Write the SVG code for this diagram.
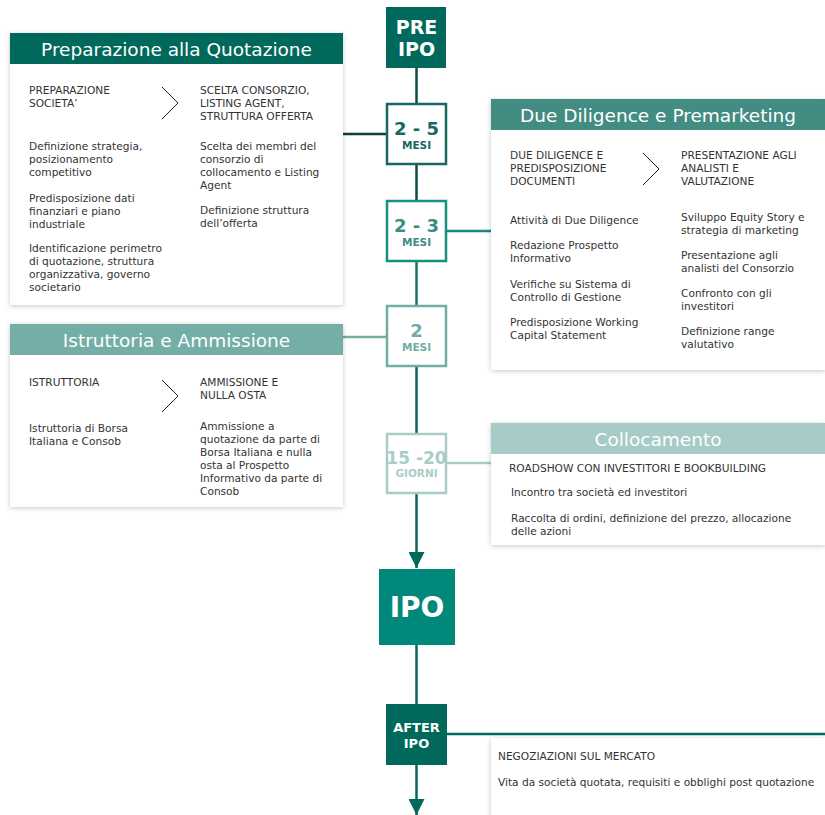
<svg xmlns="http://www.w3.org/2000/svg" width="825" height="815" viewBox="0 0 825 815">
<defs>
<filter id="sh" x="-5%" y="-5%" width="110%" height="115%">
<feDropShadow dx="0" dy="1" stdDeviation="2.5" flood-color="#000" flood-opacity="0.22"/>
</filter>
<marker id="ah" viewBox="0 0 16 16" refX="16" refY="8" markerWidth="16" markerHeight="16" markerUnits="userSpaceOnUse" orient="auto">
<path d="M0,0 L16,8 L0,16 Z" fill="#00695c"/>
</marker>
</defs>
<style>
text{font-family:"DejaVu Sans",Verdana,sans-serif}
.b{font-size:10.6px;fill:#333}
.t{font-size:18.5px;fill:#fff;text-anchor:middle}
.card{fill:#fff;filter:url(#sh)}
.chev{fill:none;stroke:#222;stroke-width:1}
.bn{font-weight:bold;text-anchor:middle}
.ln{fill:none;stroke-width:2.5}
</style>

<g id="connectors">
<line class="ln" x1="416.5" y1="68" x2="416.5" y2="103" stroke="#0b4d46"/>
<line class="ln" x1="416.5" y1="165" x2="416.5" y2="200" stroke="#0b4d46"/>
<line class="ln" x1="416.5" y1="262" x2="416.5" y2="305" stroke="#12766a"/>
<line class="ln" x1="416.5" y1="367" x2="416.5" y2="433" stroke="#00695c"/>
<line class="ln" x1="416.5" y1="494" x2="416.5" y2="568" stroke="#00695c" marker-end="url(#ah)"/>
<line class="ln" x1="416.5" y1="645" x2="416.5" y2="704" stroke="#00695c"/>
<line class="ln" x1="416.5" y1="765" x2="416.5" y2="815" stroke="#00695c" marker-end="url(#ah)"/>
<line class="ln" x1="343" y1="134" x2="386" y2="134" stroke="#0d3d3a"/>
<line class="ln" x1="447" y1="231" x2="491" y2="231" stroke="#16897a"/>
<line class="ln" x1="343" y1="337" x2="386" y2="337" stroke="#72ada4"/>
<line class="ln" x1="447" y1="463" x2="491" y2="463" stroke="#a8cdc8"/>
<line class="ln" x1="447" y1="734" x2="825" y2="734" stroke="#00695c"/>
</g>

<g id="pre-ipo">
<rect x="386" y="7" width="60" height="61" fill="#00695c"/>
<text class="bn" x="416.5" y="34" font-size="19" fill="#fff">PRE</text>
<text class="bn" x="416.5" y="56" font-size="19" fill="#fff">IPO</text>
</g>

<g id="m25">
<rect x="387" y="104" width="59" height="60" fill="#fff" stroke="#17695f" stroke-width="2.5"/>
<text class="bn" x="416.5" y="135" font-size="18" fill="#17695f">2 - 5</text>
<text class="bn" x="416.5" y="149" font-size="10.5" fill="#17695f">MESI</text>
</g>

<g id="m23">
<rect x="387" y="201" width="59" height="60" fill="#fff" stroke="#17907f" stroke-width="2.5"/>
<text class="bn" x="416.5" y="232" font-size="18" fill="#3d8c81">2 - 3</text>
<text class="bn" x="416.5" y="246" font-size="10.5" fill="#3d8c81">MESI</text>
</g>

<g id="m2">
<rect x="387" y="306" width="59" height="60" fill="#fff" stroke="#72ada4" stroke-width="2.5"/>
<text class="bn" x="416.5" y="337" font-size="18" fill="#72ada4">2</text>
<text class="bn" x="416.5" y="351" font-size="10.5" fill="#72ada4">MESI</text>
</g>

<g id="g1520">
<rect x="387" y="434" width="59" height="59" fill="#fff" stroke="#a8cdc8" stroke-width="2.5"/>
<text class="bn" x="416.5" y="464" font-size="17" fill="#a8cdc8">15 -20</text>
<text class="bn" x="416.5" y="477" font-size="10.5" fill="#a8cdc8">GIORNI</text>
</g>

<g id="ipo">
<rect x="379" y="569" width="76" height="76" fill="#00897b"/>
<text class="bn" x="417" y="617" font-size="28" fill="#fff">IPO</text>
</g>

<g id="after-ipo">
<rect x="386" y="704" width="61" height="61" fill="#00695c"/>
<text class="bn" x="416.5" y="732" font-size="13" fill="#fff">AFTER</text>
<text class="bn" x="416.5" y="748" font-size="13" fill="#fff">IPO</text>
</g>

<g id="preparazione">
<rect class="card" x="10" y="33" width="333" height="272"/>
<rect x="10" y="33" width="333" height="31" fill="#00695c"/>
<text class="t" x="176.5" y="56">Preparazione alla Quotazione</text>
<path class="chev" d="M162,87 L178,103 L162,119"/>
<text class="b" x="29" y="94">PREPARAZIONE</text>
<text class="b" x="29" y="107">SOCIETA’</text>
<text class="b" x="200" y="94">SCELTA CONSORZIO,</text>
<text class="b" x="200" y="107">LISTING AGENT,</text>
<text class="b" x="200" y="120">STRUTTURA OFFERTA</text>
<text class="b" x="29" y="150">Definizione strategia,</text>
<text class="b" x="29" y="163">posizionamento</text>
<text class="b" x="29" y="176">competitivo</text>
<text class="b" x="29" y="202">Predisposizione dati</text>
<text class="b" x="29" y="215">finanziari e piano</text>
<text class="b" x="29" y="228">industriale</text>
<text class="b" x="29" y="252">Identificazione perimetro</text>
<text class="b" x="29" y="265">di quotazione, struttura</text>
<text class="b" x="29" y="278">organizzativa, governo</text>
<text class="b" x="29" y="291">societario</text>
<text class="b" x="200" y="150">Scelta dei membri del</text>
<text class="b" x="200" y="163">consorzio di</text>
<text class="b" x="200" y="176">collocamento e Listing</text>
<text class="b" x="200" y="189">Agent</text>
<text class="b" x="200" y="214">Definizione struttura</text>
<text class="b" x="200" y="227">dell’offerta</text>
</g>

<g id="istruttoria">
<rect class="card" x="10" y="324" width="333" height="183"/>
<rect x="10" y="324" width="333" height="31" fill="#74aea6"/>
<text class="t" x="176.5" y="347">Istruttoria e Ammissione</text>
<path class="chev" d="M162,380 L178,396 L162,412"/>
<text class="b" x="29" y="386">ISTRUTTORIA</text>
<text class="b" x="200" y="386">AMMISSIONE E</text>
<text class="b" x="200" y="399">NULLA OSTA</text>
<text class="b" x="29" y="432">Istruttoria di Borsa</text>
<text class="b" x="29" y="445">Italiana e Consob</text>
<text class="b" x="200" y="430">Ammissione a</text>
<text class="b" x="200" y="443">quotazione da parte di</text>
<text class="b" x="200" y="456">Borsa Italiana e nulla</text>
<text class="b" x="200" y="469">osta al Prospetto</text>
<text class="b" x="200" y="482">Informativo da parte di</text>
<text class="b" x="200" y="495">Consob</text>
</g>

<g id="due-diligence">
<rect class="card" x="491" y="99" width="334" height="271"/>
<rect x="491" y="99" width="334" height="31" fill="#428c82"/>
<text class="t" x="658" y="122">Due Diligence e Premarketing</text>
<path class="chev" d="M643,153 L659,169 L643,185"/>
<text class="b" x="510" y="159">DUE DILIGENCE E</text>
<text class="b" x="510" y="172">PREDISPOSIZIONE</text>
<text class="b" x="510" y="185">DOCUMENTI</text>
<text class="b" x="681" y="159">PRESENTAZIONE AGLI</text>
<text class="b" x="681" y="172">ANALISTI E</text>
<text class="b" x="681" y="185">VALUTAZIONE</text>
<text class="b" x="510" y="224">Attività di Due Diligence</text>
<text class="b" x="510" y="249">Redazione Prospetto</text>
<text class="b" x="510" y="262">Informativo</text>
<text class="b" x="510" y="288">Verifiche su Sistema di</text>
<text class="b" x="510" y="301">Controllo di Gestione</text>
<text class="b" x="510" y="326">Predisposizione Working</text>
<text class="b" x="510" y="339">Capital Statement</text>
<text class="b" x="681" y="221">Sviluppo Equity Story e</text>
<text class="b" x="681" y="234">strategia di marketing</text>
<text class="b" x="681" y="259">Presentazione agli</text>
<text class="b" x="681" y="272">analisti del Consorzio</text>
<text class="b" x="681" y="297">Confronto con gli</text>
<text class="b" x="681" y="310">investitori</text>
<text class="b" x="681" y="335">Definizione range</text>
<text class="b" x="681" y="348">valutativo</text>
</g>

<g id="collocamento">
<rect class="card" x="491" y="423" width="334" height="122"/>
<rect x="491" y="423" width="334" height="31" fill="#a7cbc7"/>
<text class="t" x="658" y="446">Collocamento</text>
<text class="b" x="509" y="472">ROADSHOW CON INVESTITORI E BOOKBUILDING</text>
<text class="b" x="511" y="496">Incontro tra società ed investitori</text>
<text class="b" x="511" y="522">Raccolta di ordini, definizione del prezzo, allocazione</text>
<text class="b" x="511" y="535">delle azioni</text>
</g>

<g id="negoziazioni">
<rect class="card" x="491" y="738" width="334" height="90"/>
<text class="b" x="498" y="760">NEGOZIAZIONI SUL MERCATO</text>
<text class="b" x="498" y="786">Vita da società quotata, requisiti e obblighi post quotazione</text>
</g>
</svg>
